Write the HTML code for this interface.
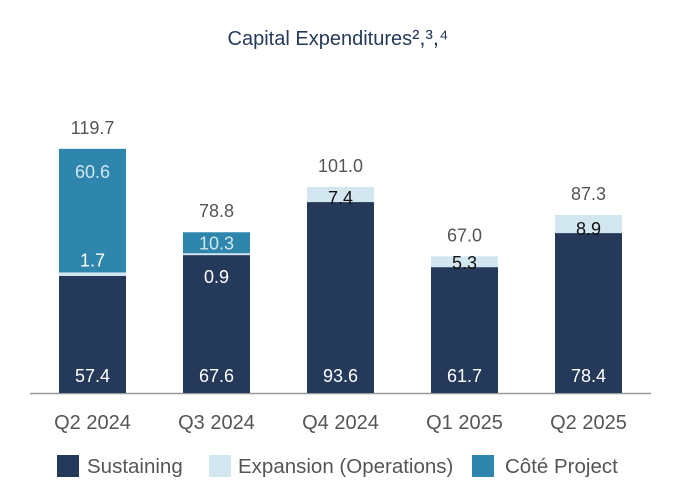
<!DOCTYPE html>
<html><head><meta charset="utf-8"><style>
body{margin:0;background:#fff;}
svg{display:block;font-family:"Liberation Sans",Arial,sans-serif;}
</style></head><body>
<svg id="c" width="680" height="500">
<text x="338" y="45" text-anchor="middle" font-size="20" fill="#253a5a">Capital Expenditures<tspan font-size="22">²,³,⁴</tspan></text>
<line x1="30" y1="393.5" x2="651" y2="393.5" stroke="#999" stroke-width="1.5"/>
<g id="bars"></g>
<g>
<rect x="57" y="455" width="22" height="22" fill="#253a5a"/>
<text x="87" y="473" font-size="20.5" fill="#555">Sustaining</text>
<rect x="209" y="455" width="22" height="22" fill="#d2e6f0"/>
<text x="238" y="473" font-size="20.5" fill="#555">Expansion (Operations)</text>
<rect x="472" y="455" width="22" height="22" fill="#2e86ad"/>
<text x="505" y="473" font-size="20.5" fill="#555">Côté Project</text>
</g>
</svg>
<script>
const categories=["Q2 2024","Q3 2024","Q4 2024","Q1 2025","Q2 2025"];
const sustaining=[57.4,67.6,93.6,61.7,78.4];
const expansion=[1.7,0.9,7.4,5.3,8.9];
const cote=[60.6,10.3,0,0,0];
const totals=["119.7","78.8","101.0","67.0","87.3"];
const NS="http://www.w3.org/2000/svg";
const base=393,scale=2.04,x0=59,step=124,bw=67,fs=18;
const y=v=>base-v*scale;
const g=document.getElementById('bars');
function el(t,a,txt){const e=document.createElementNS(NS,t);for(const k in a)e.setAttribute(k,a[k]);if(txt!==undefined)e.textContent=txt;g.appendChild(e);return e;}
categories.forEach((c,i)=>{
  const x=x0+i*step,cx=x+bw/2;
  const s=sustaining[i],e=expansion[i],k=cote[i];
  let r=el('rect',{x:x,y:y(s),width:bw,height:s*scale,fill:'#253a5a'});
  
  
  r=el('rect',{x:x,y:y(s+e),width:bw,height:e*scale,fill:'#d2e6f0'});
  
  
  if(k>0){
    const top=y(s+e+k),h=k*scale;
    r=el('rect',{x:x,y:top,width:bw,height:h,fill:'#2e86ad'});
    
    
    const ly=h>40?top+29:top+h/2+6.5;
    let t=el('text',{x:cx,y:ly,'text-anchor':'middle','font-size':fs,fill:'#d2e6f0'},k.toFixed(1));
    
    
  }
  let t=el('text',{x:cx,y:base-11,'text-anchor':'middle','font-size':fs,fill:'#fff'},s.toFixed(1));
  
  
  let ey,ec;
  if(k>0 && e<1.5){ey=y(s)+28;ec='#fff';}
  else if(k>0){ey=y(s+e)-6;ec='#fff';}
  else{ey=y(s)+2;ec='#111';}
  t=el('text',{x:cx,y:ey,'text-anchor':'middle','font-size':fs,fill:ec},e.toFixed(1));
  
  
  t=el('text',{x:cx,y:y(s+e+k)-15,'text-anchor':'middle','font-size':fs,fill:'#555'},totals[i]);
  
  
  t=el('text',{x:cx,y:429,'text-anchor':'middle','font-size':20,fill:'#555'},c);
  
  
});
</script>
</body></html>
